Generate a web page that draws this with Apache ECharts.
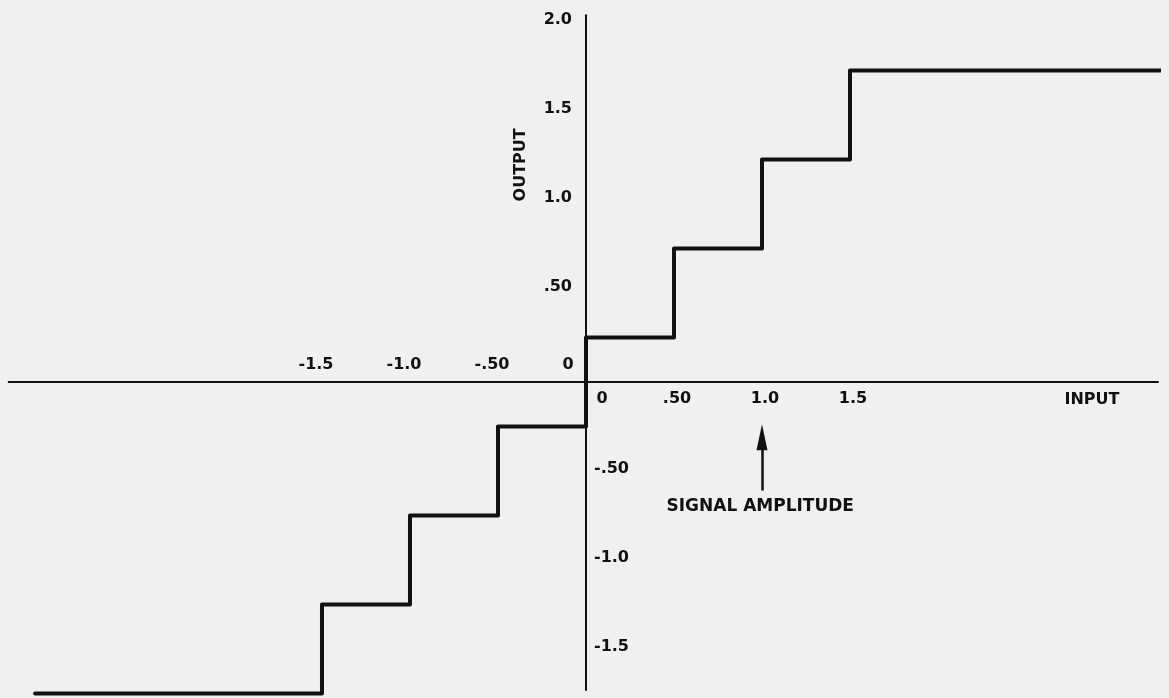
<!DOCTYPE html>
<html>
<head>
<meta charset="utf-8">
<script src="https://cdn.jsdelivr.net/npm/echarts@6/dist/echarts.min.js"></script>
<style>
html,body{margin:0;padding:0;background:#f0f0f0;}
#chart{width:1169px;height:698px;}
</style>
</head>
<body>
<div id="chart"></div>
<script>
// ---- data ----
const stepEdges  = [-1.5, -1.0, -0.5, 0, 0.5, 1.0, 1.5];
const stepLevels = [-1.75, -1.25, -0.75, -0.25, 0.25, 0.75, 1.25, 1.75];
const inputStart = -3.13;
const inputEnd   = 3.27;

const xTicksAbove  = [-1.5, -1.0, -0.5, 0];
const xLabelsAbove = ['-1.5', '-1.0', '-.50', '0'];
const xTicksBelow  = [0, 0.5, 1.0, 1.5];
const xLabelsBelow = ['0', '.50', '1.0', '1.5'];
const yTicksLeft   = [0.5, 1.0, 1.5, 2.0];
const yLabelsLeft  = ['.50', '1.0', '1.5', '2.0'];
const yTicksRight  = [-0.5, -1.0, -1.5];
const yLabelsRight = ['-.50', '-1.0', '-1.5'];

const annotationText = ['OUTPUT', 'SIGNAL AMPLITUDE', 'INPUT'];
const annotationX    = [-0.37, 0.99, 2.875];
const annotationY    = [1.22, -0.70, -0.10];
const arrowX     = 1.0;
const arrowTail  = -0.61;
const arrowHead  = -0.31;

// ---- build ----
const stepPoints = [];
stepPoints.push([inputStart, stepLevels[0]]);
for (let i = 0; i < stepEdges.length; i++) {
  stepPoints.push([stepEdges[i], stepLevels[i]]);
  stepPoints.push([stepEdges[i], stepLevels[i + 1]]);
}
stepPoints.push([inputEnd, stepLevels[stepLevels.length - 1]]);

const INK = '#111111';
const FONT = 'DejaVu Sans';
const textStyle = { show: true, color: INK, fontFamily: FONT, fontWeight: 'bold', fontSize: 16, textBorderWidth: 0 };

function tickItems(ticks, labels, onX, pos, dist, offset, zeroOffset) {
  return ticks.map((t, i) => ({
    value: onX ? [t, 0] : [0, t],
    label: Object.assign({}, textStyle, {
      position: pos, distance: dist,
      offset: labels[i] === '0' ? zeroOffset : offset,
      formatter: labels[i]
    })
  }));
}

const tickLabelData = []
  .concat(tickItems(xTicksAbove, xLabelsAbove, true, 'top', 9, [-6, 0], [-18, 0]))
  .concat(tickItems(xTicksBelow, xLabelsBelow, true, 'bottom', 9, [3, 0], [16, 0]))
  .concat(tickItems(yTicksLeft, yLabelsLeft, false, 'left', 14, [0, -6], [0, 0]))
  .concat(tickItems(yTicksRight, yLabelsRight, false, 'right', 8, [0, -2], [0, 0]));

const annotationData = annotationText.map((t, i) => ({
  value: [annotationX[i], annotationY[i]],
  label: Object.assign({}, textStyle, {
    position: 'inside', formatter: t,
    rotate: t === 'OUTPUT' ? 90 : 0,
    fontSize: t === 'SIGNAL AMPLITUDE' ? 17 : 16
  })
}));

const X_MIN = -3.28, X_MAX = 3.25, Y_MIN = -1.73, Y_MAX = 2.06;

const chart = echarts.init(document.getElementById('chart'), null, { renderer: 'canvas' });
chart.setOption({
  backgroundColor: '#f0f0f0',
  animation: false,
  grid: { left: 8.7, top: 15.3, width: 1149.3, height: 674.6, containLabel: false, outerBoundsMode: 'none' },
  xAxis: {
    type: 'value', min: X_MIN, max: X_MAX,
    axisLine: { onZero: true, lineStyle: { color: INK, width: 2 } },
    axisTick: { show: false }, splitLine: { show: false }, axisLabel: { show: false }
  },
  yAxis: {
    type: 'value', min: Y_MIN, max: Y_MAX,
    axisLine: { onZero: true, lineStyle: { color: INK, width: 2 } },
    axisTick: { show: false }, splitLine: { show: false }, axisLabel: { show: false }
  },
  series: [
    {
      type: 'line', name: 'quantizer',
      data: stepPoints, showSymbol: false, symbol: 'none', clip: false, silent: true,
      lineStyle: { color: INK, width: 4, join: 'round', cap: 'round' },
      markLine: {
        silent: true, animation: false,
        symbol: ['none', 'triangle'], symbolSize: [11, 26],
        lineStyle: { color: INK, width: 2.5, type: 'solid' },
        itemStyle: { color: INK },
        label: { show: false },
        emphasis: { disabled: true },
        data: [[{ coord: [arrowX, arrowTail] }, { coord: [arrowX, arrowHead] }]]
      }
    },
    {
      type: 'scatter', name: 'tick labels', symbolSize: 0, silent: true, clip: false,
      itemStyle: { opacity: 1, color: INK },
      data: tickLabelData
    },
    {
      type: 'scatter', name: 'annotations', symbolSize: 0, silent: true, clip: false,
      itemStyle: { opacity: 1, color: INK },
      data: annotationData
    }
  ]
});
</script>
</body>
</html>
